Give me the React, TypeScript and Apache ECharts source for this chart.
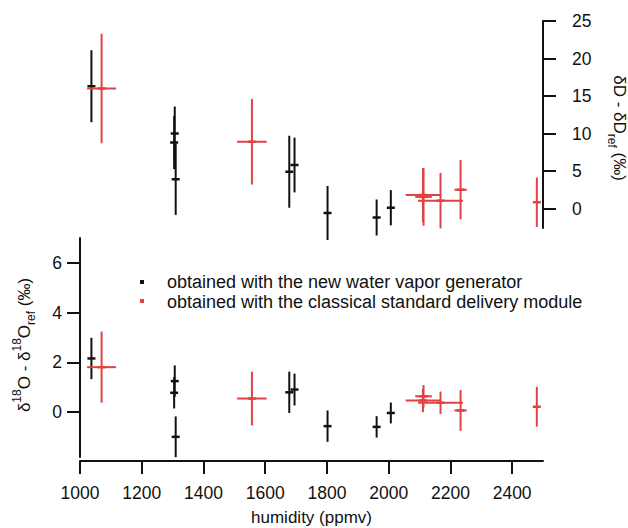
import React, { useEffect, useRef } from "react";
import * as echarts from "echarts";

// ---- data ----
const humidityTicks = [1000, 1200, 1400, 1600, 1800, 2000, 2200, 2400];
const deltaDTicks = [0, 5, 10, 15, 20, 25];
const delta18OTicks = [0, 2, 4, 6];

// new water vapor generator (black)
const blackHumidity = [1037, 1307, 1305, 1310, 1678, 1695, 1802, 1961, 2007];
const blackDeltaD = [16.3, 10.0, 8.8, 3.9, 4.9, 5.8, -0.6, -1.2, 0.1];
const blackDeltaDErr = [4.8, 3.6, 3.55, 4.75, 4.8, 3.65, 3.6, 2.4, 2.35];
const blackDelta18O = [2.16, 1.25, 0.78, -0.99, 0.8, 0.91, -0.56, -0.59, -0.03];
const blackDelta18OErr = [0.83, 0.63, 0.63, 0.82, 0.83, 0.64, 0.63, 0.43, 0.42];

// classical standard delivery module (red)
const redHumidity = [1070, 1557, 2111, 2113, 2168, 2233, 2480];
const redHumidityErr = [47, 48, 56, 27, 73, 20, 0];
const redDeltaD = [16.0, 8.9, 1.8, 1.55, 1.04, 2.5, 0.84];
const redDeltaDErr = [7.3, 5.7, 3.6, 3.85, 3.7, 3.95, 3.3];
const redDelta18O = [1.81, 0.55, 0.47, 0.64, 0.38, 0.07, 0.22];
const redDelta18OErr = [1.43, 1.08, 0.47, 0.45, 0.45, 0.82, 0.8];

const legendLabels = [
  "obtained with the new water vapor generator",
  "obtained with the classical standard delivery module",
];

const BLACK = "#111111";
const RED = "#e04343";
const FONT = "Liberation Sans, Arial, sans-serif";

function makeRender(color: string) {
  return (_params: any, api: any) => {
    const x = api.value(0);
    const y = api.value(1);
    const xe = api.value(2);
    const ye = api.value(3);
    const c = api.coord([x, y]);
    const top = api.coord([x, y + ye]);
    const bot = api.coord([x, y - ye]);
    const children: any[] = [
      {
        type: "line",
        shape: { x1: c[0], y1: top[1], x2: c[0], y2: bot[1] },
        style: { stroke: color, lineWidth: 2 },
      },
      {
        type: "line",
        shape: { x1: c[0] - 4, y1: c[1], x2: c[0] + 4, y2: c[1] },
        style: { stroke: color, lineWidth: 2.5 },
      },
    ];
    if (xe > 0) {
      const l = api.coord([x - xe, y]);
      const r = api.coord([x + xe, y]);
      children.push({
        type: "line",
        shape: { x1: l[0], y1: c[1], x2: r[0], y2: c[1] },
        style: { stroke: color, lineWidth: 2 },
      });
    }
    return { type: "group", children };
  };
}

const axisLine = { show: true, onZero: false, lineStyle: { color: BLACK, width: 2 } };
const axisTickBase = { show: true, length: 13, lineStyle: { color: BLACK, width: 2 } };
const labelBase = { color: BLACK, fontSize: 17.5, fontFamily: FONT, formatter: (v: number) => String(v) };

export default function App() {
  const ref = useRef<HTMLDivElement>(null);
  useEffect(() => {
    if (!ref.current) return;
    const chart = echarts.init(ref.current, undefined, { renderer: "svg" });

    const blackTop = blackHumidity.map((h, i) => [h, blackDeltaD[i], 0, blackDeltaDErr[i]]);
    const redTop = redHumidity.map((h, i) => [h, redDeltaD[i], redHumidityErr[i], redDeltaDErr[i]]);
    const blackBot = blackHumidity.map((h, i) => [h, blackDelta18O[i], 0, blackDelta18OErr[i]]);
    const redBot = redHumidity.map((h, i) => [h, redDelta18O[i], redHumidityErr[i], redDelta18OErr[i]]);

    chart.setOption({
      animation: false,
      backgroundColor: "#ffffff",
      textStyle: { fontFamily: FONT },
      grid: [
        { left: 80, right: 85, top: 21, bottom: 300 },
        { left: 80, right: 85, top: 238, bottom: 71 },
      ],
      xAxis: [
        { type: "value", gridIndex: 0, min: 1000, max: 2500, show: false },
        {
          type: "value",
          gridIndex: 1,
          min: 1000,
          max: 2500,
          offset: 4,
          splitLine: { show: false },
          axisLine,
          axisTick: { ...axisTickBase, customValues: humidityTicks },
          axisLabel: { ...labelBase, margin: 23, customValues: humidityTicks },
          name: "humidity (ppmv)",
          nameLocation: "middle",
          nameGap: 48,
          nameTextStyle: { color: BLACK, fontSize: 17, fontFamily: FONT },
        },
      ],
      yAxis: [
        {
          type: "value",
          gridIndex: 0,
          position: "right",
          min: -2.6,
          max: 25,
          splitLine: { show: false },
          axisLine,
          axisTick: { ...axisTickBase, customValues: deltaDTicks },
          axisLabel: { ...labelBase, margin: 29, customValues: deltaDTicks },
        },
        {
          type: "value",
          gridIndex: 1,
          position: "left",
          min: -1.8,
          max: 7,
          splitLine: { show: false },
          axisLine,
          axisTick: { ...axisTickBase, customValues: delta18OTicks },
          axisLabel: { ...labelBase, margin: 18, customValues: delta18OTicks },
        },
      ],
      series: [
        { type: "custom", name: legendLabels[0], xAxisIndex: 0, yAxisIndex: 0, clip: false, renderItem: makeRender(BLACK), data: blackTop },
        { type: "custom", name: legendLabels[1], xAxisIndex: 0, yAxisIndex: 0, clip: false, renderItem: makeRender(RED), data: redTop },
        { type: "custom", name: legendLabels[0], xAxisIndex: 1, yAxisIndex: 1, clip: false, renderItem: makeRender(BLACK), data: blackBot },
        { type: "custom", name: legendLabels[1], xAxisIndex: 1, yAxisIndex: 1, clip: false, renderItem: makeRender(RED), data: redBot },
      ],
      graphic: [
        { type: "rect", left: 140, top: 280, shape: { width: 4, height: 4 }, style: { fill: BLACK } },
        { type: "rect", left: 140, top: 299, shape: { width: 4, height: 4 }, style: { fill: RED } },
        {
          type: "text",
          x: 167,
          y: 282,
          style: { text: legendLabels[0], fill: BLACK, fontSize: 18, fontFamily: FONT, verticalAlign: "middle", align: "left" },
        },
        {
          type: "text",
          x: 167,
          y: 301.5,
          style: { text: legendLabels[1], fill: BLACK, fontSize: 18, fontFamily: FONT, verticalAlign: "middle", align: "left" },
        },
        {
          type: "text",
          x: 24,
          y: 345,
          rotation: Math.PI / 2,
          style: {
            text: "δ{sup|18}O - δ{sup|18}O{sub|ref} (‰)",
            fill: BLACK,
            fontSize: 17,
            fontFamily: FONT,
            lineHeight: 26,
            align: "center",
            verticalAlign: "middle",
            rich: {
              sup: { fontSize: 12, fontFamily: FONT, fill: BLACK, verticalAlign: "top" },
              sub: { fontSize: 12, fontFamily: FONT, fill: BLACK, verticalAlign: "bottom" },
            },
          },
        },
        {
          type: "text",
          x: 619,
          y: 128,
          rotation: -Math.PI / 2,
          style: {
            text: "δD - δD{sub|ref} (‰)",
            fill: BLACK,
            fontSize: 17,
            fontFamily: FONT,
            lineHeight: 26,
            align: "center",
            verticalAlign: "middle",
            rich: {
              sub: { fontSize: 12, fontFamily: FONT, fill: BLACK, verticalAlign: "bottom" },
            },
          },
        },
      ],
    });
    return () => chart.dispose();
  }, []);
  return (
    <div
      ref={ref}
      style={{ position: "fixed", left: 0, top: 0, width: 628, height: 528, background: "#fff" }}
    />
  );
}
